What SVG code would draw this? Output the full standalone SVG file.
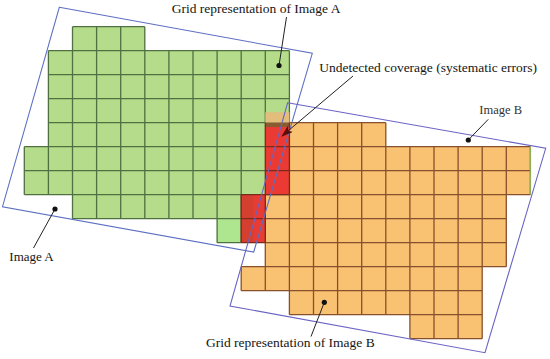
<svg xmlns="http://www.w3.org/2000/svg" width="550" height="359" viewBox="0 0 550 359">
<style>
.lbl{font-family:"Liberation Serif","Times New Roman",serif;fill:#151515}
.gA{fill:#b4dc8b;stroke:none}
.gAl{fill:none;stroke:#4f7040;stroke-width:1.3}
.gB{fill:#f9c172;stroke:none}
.gBl{fill:none;stroke:#87502c;stroke-width:1.3}
.red{stroke:#7a2a1c;stroke-width:1.3}
.fp{fill:none;stroke-width:1.1}
.lead{fill:none;stroke:#222;stroke-width:1}
.dot{fill:#111}
</style>
<defs>
<marker id="ah" viewBox="0 0 12 8" refX="11" refY="4" markerWidth="12" markerHeight="8" orient="auto" markerUnits="userSpaceOnUse">
<path d="M0,0 L12,4 L0,8 L3,4 z" fill="#5a0d0d"/>
</marker>
</defs>
<rect width="550" height="359" fill="#ffffff"/>

<g id="gridA">
<path class="gA" d="M72.5,26.7H144.8V50.7H289.4V122.7H265.3V194.7H241.2V242.7H217.1V218.7H72.5V194.7H24.3V146.7H48.4V50.7H72.5Z"/>
<rect x="217.1" y="218.7" width="24.1" height="24" fill="#aee690"/>
<path class="gAl" d="M72.5,26.7H144.8M48.4,50.7H289.4M48.4,74.7H289.4M48.4,98.7H289.4M48.4,122.7H289.4M24.3,146.7H265.3M24.3,170.7H265.3M24.3,194.7H265.3M72.5,218.7H241.2M217.1,242.7H241.2M24.3,146.7V194.7M48.4,50.7V194.7M72.5,26.7V218.7M96.6,26.7V218.7M120.7,26.7V218.7M144.8,26.7V218.7M168.9,50.7V218.7M193,50.7V218.7M217.1,50.7V242.7M241.2,50.7V242.7M265.3,50.7V122.7M289.4,50.7V122.7"/>
</g>

<g id="gridB">
<path class="gB" d="M289.4,122.7H385.8V146.7H530.4V194.7H506.3V266.7H482.2V338.7H409.9V314.7H289.4V290.7H241.2V266.7H265.3V194.7H289.4Z"/>
<path class="gBl" d="M289.4,122.7H385.8M289.4,146.7H530.4M289.4,170.7H530.4M265.3,194.7H530.4M265.3,218.7H506.3M265.3,242.7H506.3M241.2,266.7H506.3M241.2,290.7H482.2M289.4,314.7H482.2M409.9,338.7H482.2M241.2,266.7V290.7M265.3,194.7V290.7M289.4,122.7V314.7M313.5,122.7V314.7M337.6,122.7V314.7M361.7,122.7V314.7M385.8,122.7V314.7M409.9,146.7V338.7M434,146.7V338.7M458.1,146.7V338.7M482.2,146.7V338.7M506.3,146.7V266.7M530.4,146.7V194.7"/>
<path d="M530.4,146.7V194.7" stroke="#8fae5a" stroke-width="1.2" fill="none"/>
</g>

<g id="undetected">
<rect x="265.3" y="112.3" width="24.1" height="10.4" fill="#e2bd7c"/>
<rect x="265.3" y="122.7" width="24.1" height="4.3" fill="#8a5a30"/>
<rect x="265.3" y="127" width="24.1" height="67.7" fill="#eb3a33"/>
<rect x="241.2" y="194.7" width="24.1" height="48" fill="#e83b33"/>
<rect x="241.2" y="194.7" width="12" height="48" fill="#c8432f" opacity="0.6"/>
<path class="red" fill="none" d="M265.3,146.7H289.4M265.3,170.7H289.4M241.2,194.7H289.4M241.2,218.7H265.3M241.2,242.7H265.3M241.2,194.7V242.7M265.3,122.7V242.7M289.4,122.7V194.7"/>
</g>

<g id="imageA">
<polygon class="fp" stroke="#5d6fc2" points="59.3,7.3 312.3,53.3 253.7,252 2.5,206.7"/>
</g>
<g id="imageB">
<polygon class="fp" stroke="#6a64c4" points="287.7,102.7 545.7,148.3 485,352.7 230,306"/>
</g>

<g id="connectors">
<path class="lead" d="M286.5,17L279,65.5"/>
<circle class="dot" cx="279" cy="65.5" r="2.6"/>
<path class="lead" d="M353,76L282,136" marker-end="url(#ah)"/>
<path class="lead" d="M488.3,119.3L468.3,140"/>
<circle class="dot" cx="468.3" cy="140" r="2.6"/>
<path class="lead" d="M55,209L33.5,248"/>
<circle class="dot" cx="55" cy="209" r="2.6"/>
<path class="lead" d="M324.3,302.3L311,336.5"/>
<circle class="dot" cx="324.3" cy="302.3" r="2.6"/>
</g>

<g id="labels">
<text class="lbl" x="171.7" y="12.5" font-size="13.5">Grid representation of Image A</text>
<text class="lbl" x="319.3" y="72" font-size="13.5">Undetected coverage (systematic errors)</text>
<text class="lbl" x="479.3" y="114" font-size="12.5" style="fill:#333">Image B</text>
<text class="lbl" x="9.3" y="261" font-size="13">Image A</text>
<text class="lbl" x="206" y="347" font-size="13.5">Grid representation of Image B</text>
</g>
</svg>
